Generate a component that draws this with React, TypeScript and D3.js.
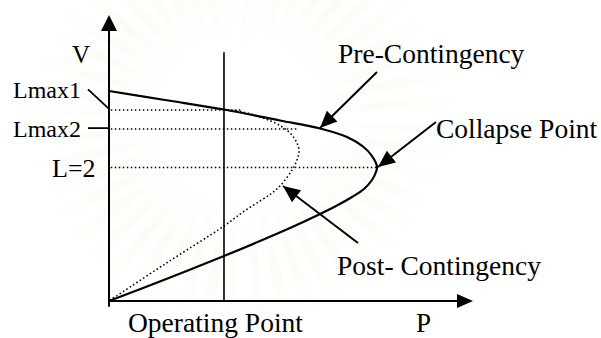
import React from "react";
import * as d3 from "d3";

// data in chart units: P (0..100) across, V (0..100) up
const preCurve: [number, number][] = [
  [0, 73.43], [15.38, 70.28], [31.59, 66.96], [46.98, 63.11], [57.97, 60.31], [65.38, 57.34],
  [69.78, 54.02], [72.25, 50.7], [73.63, 46.85], [73.35, 45.1], [72.25, 42.31], [70.05, 39.16],
  [66.76, 36.36], [62.64, 33.39], [57.14, 29.9], [49.73, 25.52], [41.48, 20.98], [31.59, 15.73],
  [15.38, 7.52], [0, 0],
];
const postCurve: [number, number][] = [
  [31.59, 66.96], [36.81, 66.08], [42.31, 63.99], [46.98, 61.36], [50, 58.39], [51.65, 55.24],
  [52.2, 52.45], [51.65, 49.3], [50.27, 45.8], [47.25, 40.56], [44.78, 37.76], [41.48, 34.97],
  [36.81, 31.12], [31.59, 26.22], [15.38, 12.94], [0, 0],
];
const levelNames = ["Lmax1", "Lmax2", "L=2"];
const levelV = [66.8, 60.1, 46.7];
const levelEndP = [36.8, 51.9, 73.6];
const operatingP = 31.59;
const operatingTopV = 87;

const W = 601, H = 338;
const x = d3.scaleLinear().domain([0, 100]).range([109, 473]);
const y = d3.scaleLinear().domain([0, 100]).range([301, 15]);

const font = "Liberation Serif, Times New Roman, serif";

export default function App() {
  const line = d3.line<[number, number]>().x(d => x(d[0])).y(d => y(d[1])).curve(d3.curveCatmullRom.alpha(0.5));
  const arrowHead = (tx: number, ty: number, fx: number, fy: number, len: number, hw: number) => {
    const a = Math.atan2(ty - fy, tx - fx);
    const bx = tx - len * Math.cos(a), by = ty - len * Math.sin(a);
    const px = -Math.sin(a) * hw, py = Math.cos(a) * hw;
    return `M${tx},${ty}L${bx + px},${by + py}L${bx - px},${by - py}Z`;
  };
  const arrows = [
    { from: [377, 72], to: [320, 128] },
    { from: [436, 122], to: [378, 167] },
    { from: [358, 243], to: [283, 186] },
  ].map(a => ({ from: [x.invert(a.from[0]), y.invert(a.from[1])], to: [x.invert(a.to[0]), y.invert(a.to[1])] }));

  // faint watermark rays
  const rayArc = d3.arc<number>()
    .innerRadius(50).outerRadius(230)
    .startAngle(i => (i * 2 * Math.PI) / 48)
    .endAngle(i => ((i + 0.5) * 2 * Math.PI) / 48);
  const rays = d3.range(48);

  return (
    <svg width={W} height={H} style={{ position: "absolute", left: 0, top: 0, background: "#fff" }}>
      <defs>
        <radialGradient id="wm" cx="0.5" cy="0.5" r="0.5">
          <stop offset="0" stopColor="#f3ecd0" stopOpacity={0.22} />
          <stop offset="1" stopColor="#f3ecd0" stopOpacity={0} />
        </radialGradient>
      </defs>
      <g transform="translate(240,120)" fill="url(#wm)">
        {rays.map(i => <path key={i} d={rayArc(i) || ""} />)}
      </g>
      {/* axes */}
      <line x1={x(0)} y1={y(-2)} x2={x(0)} y2={y(95)} stroke="#000" strokeWidth={2} />
      <path d={arrowHead(x(0), y(100), x(0), y(0), 16, 8)} fill="#000" />
      <line x1={x(0)} y1={y(0)} x2={x(96)} y2={y(0)} stroke="#000" strokeWidth={2} />
      <path d={arrowHead(x(100), y(0), x(0), y(0), 16, 7)} fill="#000" />
      {/* operating point */}
      <line x1={x(operatingP)} y1={y(0)} x2={x(operatingP)} y2={y(operatingTopV)} stroke="#000" strokeWidth={1.6} />
      {/* level dotted lines */}
      {levelV.map((v, i) => (
        <line key={i} x1={x(0.5)} y1={y(v)} x2={x(levelEndP[i])} y2={y(v)} stroke="#000" strokeWidth={1.5} strokeDasharray="1.5,2.5" />
      ))}
      {/* curves */}
      <path d={line(preCurve) || ""} fill="none" stroke="#000" strokeWidth={2.2} />
      <path d={line(postCurve) || ""} fill="none" stroke="#000" strokeWidth={1.6} strokeDasharray="1.5,2.5" />
      {/* annotation arrows */}
      {arrows.map((a, i) => {
        const fx = x(a.from[0]), fy = y(a.from[1]), tx = x(a.to[0]), ty = y(a.to[1]);
        return (
          <g key={i}>
            <line x1={fx} y1={fy} x2={tx} y2={ty} stroke="#000" strokeWidth={2} />
            <path d={arrowHead(tx, ty, fx, fy, 17, 7.5)} fill="#000" />
          </g>
        );
      })}
      {/* leader lines */}
      <line x1={88} y1={y(74)} x2={x(0)} y2={y(levelV[0]) - 1} stroke="#000" strokeWidth={1.8} />
      <line x1={88} y1={y(levelV[1]) - 1} x2={x(0)} y2={y(levelV[1]) - 1} stroke="#000" strokeWidth={1.8} />
      {/* text */}
      <g fontFamily={font} fill="#000">
        <text x={72} y={63} fontSize={25}>V</text>
        <text x={13} y={98} fontSize={24}>{levelNames[0]}</text>
        <text x={13} y={137} fontSize={24}>{levelNames[1]}</text>
        <text x={52} y={177} fontSize={26}>{levelNames[2]}</text>
        <text x={338} y={63} fontSize={27.5}>Pre-Contingency</text>
        <text x={436} y={138} fontSize={27.5}>Collapse Point</text>
        <text x={337} y={275} fontSize={27.5}>Post- Contingency</text>
        <text x={128} y={332} fontSize={27.5}>Operating Point</text>
        <text x={416} y={332} fontSize={27}>P</text>
      </g>
    </svg>
  );
}
